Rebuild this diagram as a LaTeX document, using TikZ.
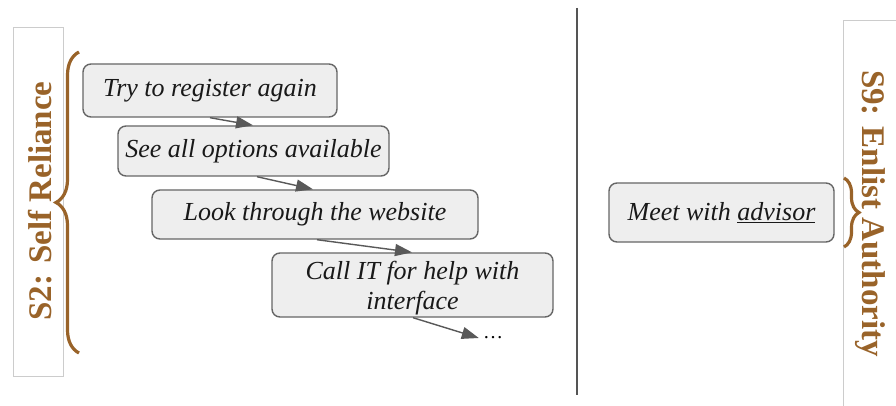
\documentclass[tikz,border=0pt]{standalone}
\usepackage{fontspec}
\setmainfont{Liberation Serif}
\usetikzlibrary{arrows.meta,decorations.pathreplacing}
\definecolor{labelbrown}{RGB}{153,99,41}
\definecolor{stepfill}{HTML}{EEEEEE}
\definecolor{stepline}{HTML}{666666}
\definecolor{arrowgray}{HTML}{595959}
\definecolor{framegray}{HTML}{CCCCCC}
\definecolor{dividergray}{HTML}{555555}
\begin{document}
\begin{tikzpicture}[x=1pt,y=-1pt,
  stepbox/.style={draw=stepline, line width=1.4pt, fill=stepfill, rounded corners=8pt,
    font=\fontsize{26}{30}\selectfont\itshape, align=center, inner sep=0pt, text=black!90},
  flow/.style={draw=arrowgray, line width=1.4pt, -{Triangle[length=17pt,width=12pt,fill=arrowgray]}},
  bracket/.style={draw=labelbrown, line width=3.2pt, decorate},
  sidelabel/.style={font=\fontsize{33}{38}\selectfont\bfseries, text=labelbrown, inner sep=0pt, anchor=base},
  labelframe/.style={draw=framegray, line width=0.8pt, fill=white},
]
\useasboundingbox (0,0) rectangle (896,406);
\clip (0,0) rectangle (896,406);
\fill[white] (0,0) rectangle (896,406);

% side frames with the strategy names
\node[labelframe, minimum width=50pt, minimum height=349pt, inner sep=0pt] (leftframe) at (38,201.5) {};
\node[labelframe, minimum width=60pt, minimum height=400pt, inner sep=0pt] (rightframe) at (873,220) {};
\node[sidelabel, rotate=90] (s2) at (51,201) {S2: Self Reliance};
\node[sidelabel, rotate=-90] (s9) at (862,213.5) {S9: Enlist Authority};

% braces
\coordinate (lbrA) at (79,353);
\coordinate (lbrB) at (79,52);
\draw[bracket, decoration={brace, amplitude=23pt}] (lbrA) -- (lbrB);
\coordinate (rbrA) at (844,178);
\coordinate (rbrB) at (844,247);
\draw[bracket, decoration={brace, amplitude=15pt}] (rbrA) -- (rbrB);

% divider
\coordinate (divtop) at (577,8);
\coordinate (divbot) at (577,395);
\draw[dividergray, line width=2pt] (divtop) -- (divbot);

% steps
\node[stepbox, minimum width=254pt, minimum height=53pt] (n1) at (210,90.5) {Try to register again};
\node[stepbox, minimum width=271pt, minimum height=50pt] (n2) at (253.5,151) {See all options available};
\node[stepbox, minimum width=326pt, minimum height=49pt] (n3) at (315,214.5) {Look through the website};
\node[stepbox, minimum width=281pt, minimum height=64pt] (n4) at (412.5,285) {\rule{0pt}{25pt}Call IT for help with\\interface};
\node[font=\fontsize{20}{24}\selectfont, inner sep=4pt] (more) at (493,338) {\ldots};
\node[stepbox, minimum width=225pt, minimum height=59pt] (meet) at (721.5,212.5) {Meet with \underline{advisor}};

% connectors
\draw[flow] ([xshift=0pt]n1.south) -- ([xshift=-0.5pt]n2.north);
\draw[flow] ([xshift=3.5pt]n2.south) -- ([xshift=-2pt]n3.north);
\draw[flow] ([xshift=2pt]n3.south) -- ([xshift=-0.5pt]n4.north);
\draw[flow] ([xshift=0.5pt]n4.south) -- (more.west);
\end{tikzpicture}
\end{document}
